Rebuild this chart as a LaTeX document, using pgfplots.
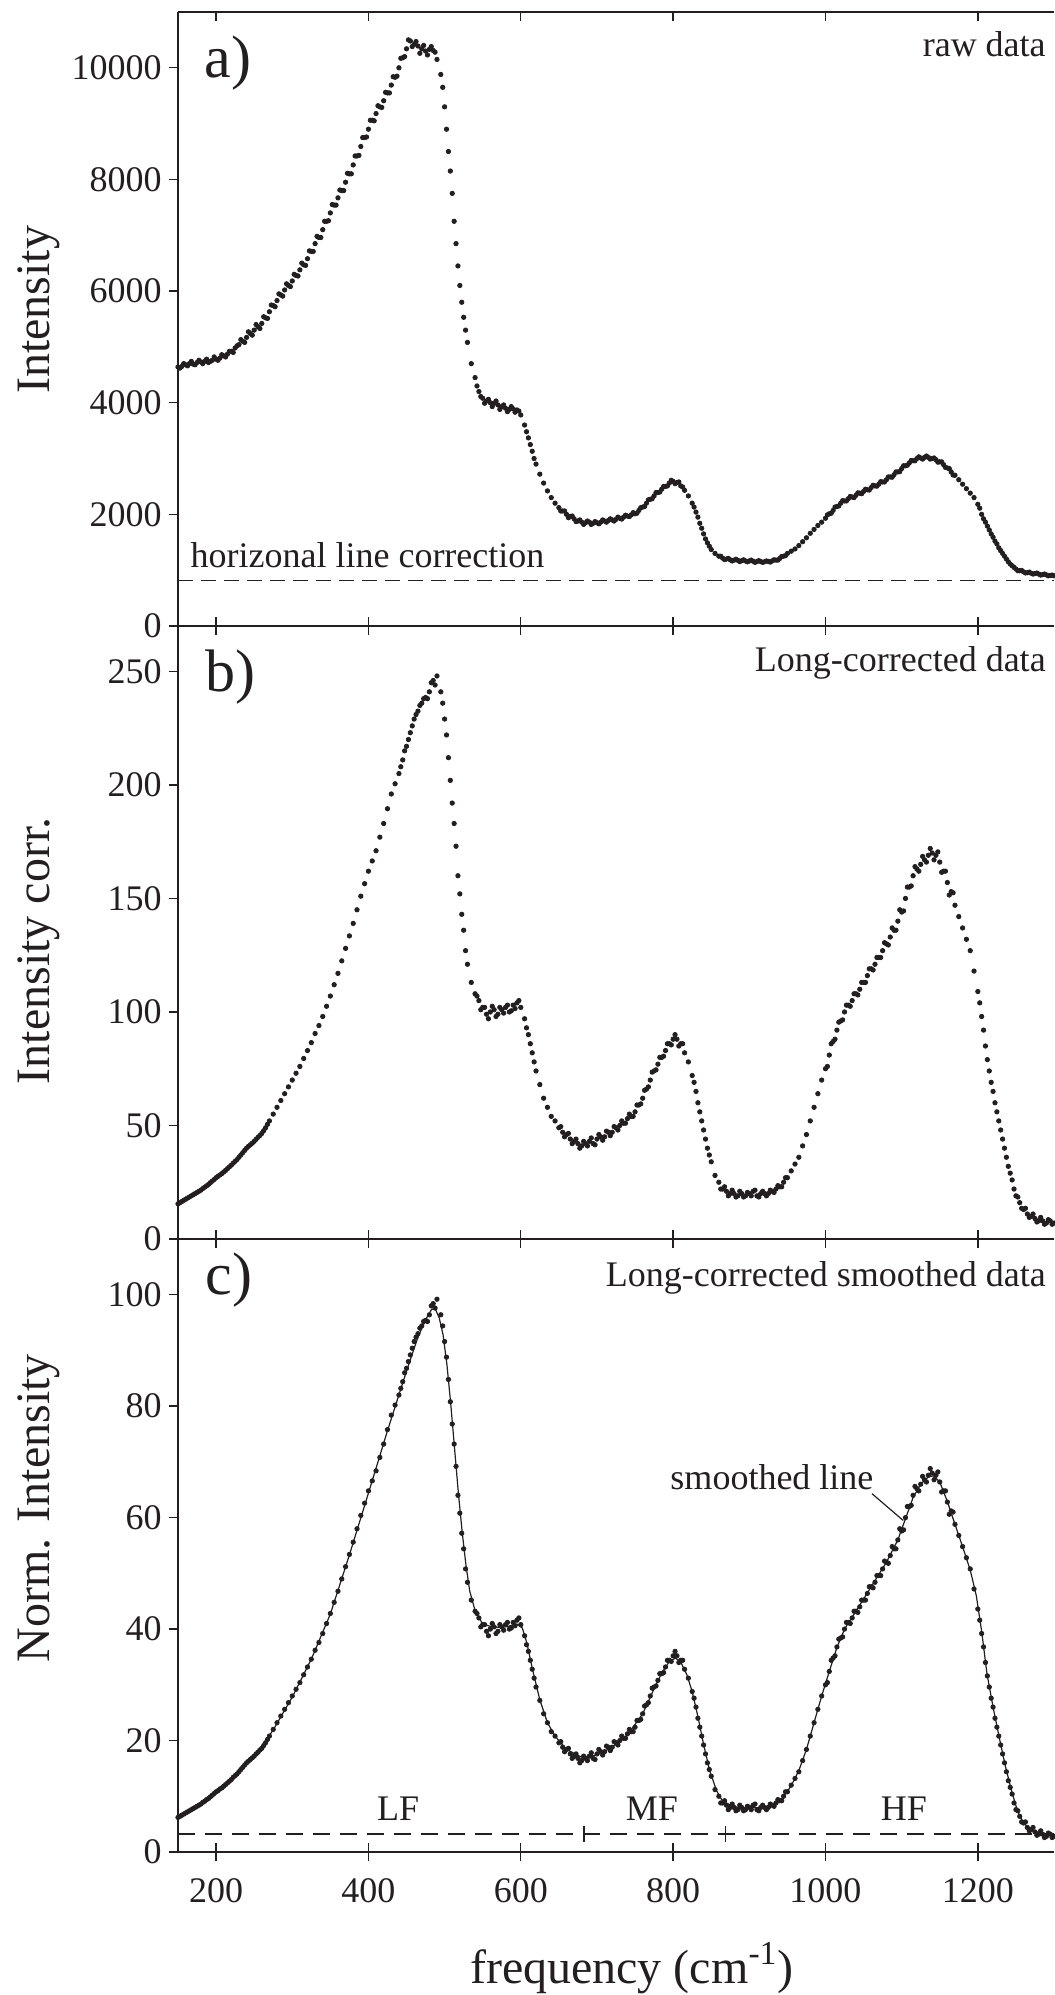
\documentclass[border=0pt]{standalone}
\usepackage{fontspec}
\setmainfont{Liberation Serif}
\usepackage{pgfplots}
\usepackage{pgfplotstable}
\pgfplotsset{compat=1.18}
\definecolor{ink}{HTML}{231F20}

% f = frequency (cm^-1); a = raw intensity; b = Long-corrected; c = normalised
\pgfplotstableread{
f a b c
150 4640 15.5 6.2
155 4650 16.5 6.6
160 4680 17.5 7.0
165 4700 18.5 7.4
170 4690 19.5 7.8
175 4720 20.5 8.2
180 4730 21.5 8.6
185 4740 22.8 9.1
190 4720 24.0 9.6
195 4760 25.5 10.2
200 4780 27.0 10.8
205 4800 28.2 11.3
210 4840 29.5 11.8
215 4870 31.0 12.4
220 4920 32.5 13.0
225 4980 34.2 13.7
230 5040 36.0 14.4
235 5100 38.0 15.2
240 5170 40.0 16.0
245 5240 41.5 16.6
250 5300 43.0 17.2
255 5360 44.8 17.9
260 5420 46.5 18.6
265 5520 49.0 19.6
270 5630 52.0 20.8
275 5740 55.0 22.0
280 5830 58.0 23.2
285 5930 61.0 24.4
290 6020 64.0 25.6
295 6100 67.0 26.8
300 6180 70.0 28.0
305 6280 73.0 29.2
310 6380 76.0 30.4
315 6470 79.5 31.8
320 6580 83.0 33.2
325 6710 86.5 34.6
330 6850 90.5 36.2
335 6960 94.0 37.6
340 7100 98.0 39.2
345 7250 102.5 41.0
350 7400 107.0 42.8
355 7540 112.0 44.8
360 7670 117.0 46.8
365 7800 122.5 49.0
370 7950 128.0 51.2
375 8100 133.5 53.4
380 8260 139.0 55.6
385 8420 145.0 58.0
390 8590 151.0 60.4
395 8750 156.5 62.6
400 8900 162.0 64.8
405 9060 166.5 66.6
410 9180 171.0 68.4
415 9300 177.0 70.8
420 9410 183.0 73.2
425 9550 189.5 75.8
430 9690 196.0 78.4
435 9830 200.5 80.2
440 10000 205.0 82.0
445 10180 211.0 84.4
450 10340 217.0 86.8
455 10480 223.0 89.2
460 10420 229.0 91.6
465 10390 232.5 93.0
470 10340 236.0 94.4
475 10300 238.5 95.4
480 10330 241.0 96.4
485 10310 246.0 98.4
490 10150 248.0 99.2
495 9880 241.0 96.4
497.5 9650 236.0 94.4
500 9300 229.0 91.6
502.5 8900 222.0 88.8
505 8500 212.0 84.8
507.5 8150 202.0 80.8
510 7750 192.0 76.8
512.5 7250 183.0 73.2
515 6850 173.0 69.2
517.5 6450 160.0 64.0
520 6100 152.0 60.8
522.5 5800 143.0 57.2
525 5530 136.0 54.4
527.5 5300 127.0 50.8
530 5080 121.0 48.4
535 4700 113.0 45.2
540 4450 108.0 43.2
545 4200 105.0 42.0
550 4080 102.0 40.8
555 4030 99.0 39.6
560 4000 100.0 40.0
565 3990 101.0 40.4
570 3960 99.0 39.6
575 3930 101.0 40.4
580 3900 102.0 40.8
585 3880 100.0 40.0
590 3890 103.0 41.2
595 3870 104.0 41.6
600 3780 102.0 40.8
605 3600 97.0 38.8
607.5 3480 93.0 37.2
610 3370 90.0 36.0
612.5 3250 86.0 34.4
615 3130 82.0 32.8
617.5 3000 78.0 31.2
620 2900 74.0 29.6
625 2720 68.0 27.2
630 2560 62.0 24.8
635 2420 58.0 23.2
640 2300 54.0 21.6
645 2200 52.0 20.8
650 2120 49.0 19.6
655 2060 47.0 18.8
660 2000 46.0 18.4
665 1960 44.0 17.6
670 1920 43.0 17.2
675 1880 42.0 16.8
680 1860 41.0 16.4
685 1850 42.0 16.8
690 1860 43.0 17.2
695 1840 42.0 16.8
700 1850 44.0 17.6
705 1860 45.0 18.0
710 1880 45.0 18.0
715 1890 47.0 18.8
720 1900 47.0 18.8
725 1910 49.0 19.6
730 1930 50.0 20.0
735 1950 51.0 20.4
740 1970 53.0 21.2
745 1990 54.0 21.6
750 2010 56.0 22.4
755 2070 59.0 23.6
760 2130 62.0 24.8
765 2200 66.0 26.4
770 2270 70.0 28.0
775 2330 74.0 29.6
780 2390 77.0 30.8
785 2450 80.0 32.0
790 2500 83.0 33.2
795 2560 86.0 34.4
800 2590 88.0 35.2
805 2570 88.0 35.2
810 2510 86.0 34.4
815 2430 82.0 32.8
820 2330 78.0 31.2
825 2200 72.0 28.8
827.5 2130 69.0 27.6
830 2040 65.0 26.0
832.5 1950 60.0 24.0
835 1840 56.0 22.4
837.5 1750 52.0 20.8
840 1650 48.0 19.2
842.5 1560 44.0 17.6
845 1490 40.0 16.0
847.5 1430 37.0 14.8
850 1370 34.0 13.6
855 1300 28.0 11.2
860 1250 25.0 10.0
865 1215 22.0 8.8
870 1200 21.0 8.4
875 1185 20.0 8.0
880 1180 20.0 8.0
885 1175 19.0 7.6
890 1170 20.0 8.0
895 1165 19.0 7.6
900 1165 20.0 8.0
905 1160 21.0 8.4
910 1155 19.0 7.6
915 1155 20.0 8.0
920 1150 20.0 8.0
925 1155 20.0 8.0
930 1165 21.0 8.4
935 1180 22.0 8.8
940 1210 23.0 9.2
945 1250 25.0 10.0
950 1300 27.0 10.8
955 1340 30.0 12.0
960 1380 33.0 13.2
965 1440 36.0 14.4
970 1510 41.0 16.4
975 1580 46.0 18.4
980 1660 52.0 20.8
985 1730 58.0 23.2
990 1800 64.0 25.6
995 1860 70.0 28.0
1000 1930 75.0 30.0
1005 2010 81.0 32.4
1010 2070 87.0 34.8
1015 2140 92.0 36.8
1020 2200 96.0 38.4
1025 2240 100.0 40.0
1030 2280 103.0 41.2
1035 2310 105.0 42.0
1040 2340 108.0 43.2
1045 2380 110.0 44.0
1050 2410 113.0 45.2
1055 2440 116.0 46.4
1060 2480 119.0 47.6
1065 2510 121.0 48.4
1070 2540 124.0 49.6
1075 2580 127.0 50.8
1080 2620 130.0 52.0
1085 2670 133.0 53.2
1090 2710 136.0 54.4
1095 2760 140.0 56.0
1100 2820 144.0 57.6
1105 2870 150.0 60.0
1110 2920 155.0 62.0
1115 2960 160.0 64.0
1120 3000 163.0 65.2
1125 3010 165.0 66.0
1130 3020 167.0 66.8
1135 3020 169.0 67.6
1140 3000 170.0 68.0
1145 2980 169.0 67.6
1150 2940 166.0 66.4
1155 2890 162.0 64.8
1160 2830 157.0 62.8
1165 2760 153.0 61.2
1170 2700 147.0 58.8
1175 2620 142.0 56.8
1180 2540 137.0 54.8
1185 2460 132.0 52.8
1190 2380 127.0 50.8
1195 2300 118.0 47.2
1200 2180 109.0 43.6
1202.5 2110 104.0 41.6
1205 2000 98.0 39.2
1207.5 1920 92.0 36.8
1210 1860 85.0 34.0
1212.5 1790 79.0 31.6
1215 1720 74.0 29.6
1217.5 1650 69.0 27.6
1220 1590 65.0 26.0
1222.5 1520 60.0 24.0
1225 1470 56.0 22.4
1227.5 1400 52.0 20.8
1230 1350 48.0 19.2
1232.5 1300 44.0 17.6
1235 1250 40.0 16.0
1237.5 1200 36.0 14.4
1240 1150 32.0 12.8
1242.5 1110 29.0 11.6
1245 1080 26.0 10.4
1247.5 1050 22.0 8.8
1250 1020 19.0 7.6
1255 990 16.0 6.4
1260 970 13.0 5.2
1265 955 11.0 4.4
1270 945 10.0 4.0
1275 940 9.0 3.6
1280 930 8.0 3.2
1285 920 8.0 3.2
1290 915 7.0 2.8
1295 905 8.0 3.2
1300 900 7.0 2.8
}\spectra

% further measured points (scatter in the noisier stretches); nan = no extra point
\pgfplotstableread{
f a b c
152.5 4620 16.0 6.4
157.5 4700 17.0 6.8
162.5 4660 18.0 7.2
167.5 4740 19.0 7.6
172.5 4680 20.0 8.0
177.5 4760 21.0 8.4
182.5 4700 22.2 8.9
187.5 4780 23.4 9.4
192.5 4740 24.8 9.9
197.5 4820 26.2 10.5
202.5 4760 27.6 11.0
207.5 4860 28.8 11.5
212.5 4820 30.2 12.1
217.5 4920 31.8 12.7
222.5 4900 33.4 13.4
227.5 5020 35.0 14.0
232.5 5130 37.0 14.8
237.5 5080 39.0 15.6
242.5 5270 40.8 16.3
247.5 5210 42.2 16.9
252.5 5400 43.9 17.6
257.5 5330 45.6 18.3
262.5 5540 47.7 19.1
267.5 5510 50.5 20.2
272.5 5750 nan nan
277.5 5720 nan nan
282.5 5950 nan nan
287.5 5910 nan nan
292.5 6130 nan nan
297.5 6080 nan nan
302.5 6300 nan nan
307.5 6270 nan nan
312.5 6500 nan nan
317.5 6460 nan nan
322.5 6720 nan nan
327.5 6710 nan nan
332.5 6980 nan nan
337.5 6960 nan nan
342.5 7250 nan nan
347.5 7260 nan nan
352.5 7550 nan nan
357.5 7540 nan nan
362.5 7810 nan nan
367.5 7800 nan nan
372.5 8110 nan nan
377.5 8100 nan nan
382.5 8420 nan nan
387.5 8430 nan nan
392.5 8750 nan nan
397.5 8760 nan nan
402.5 9060 nan nan
407.5 9050 nan nan
412.5 9320 nan nan
417.5 9290 nan nan
422.5 9560 nan nan
427.5 9550 nan nan
432.5 9840 nan nan
437.5 9850 nan nan
442.5 10170 208.0 83.2
447.5 10200 215.0 86.0
452.5 10500 220.0 88.0
457.5 10380 226.0 90.4
462.5 10470 231.0 92.4
467.5 10260 235.0 94.0
472.5 10400 238.0 95.2
477.5 10230 238.0 95.2
482.5 10380 245.0 98.0
487.5 10280 244.0 97.6
542.5 4300 107.0 42.8
547.5 4110 101.0 40.4
552.5 3990 102.0 40.8
557.5 4060 97.0 38.8
562.5 3930 102.5 41.0
567.5 4030 98.0 39.2
572.5 3880 102.0 40.8
577.5 3960 99.5 39.8
582.5 3840 103.0 41.2
587.5 3930 100.5 40.2
592.5 3830 101.5 40.6
597.5 3850 105.0 42.0
652.5 2060 49.5 19.8
657.5 2060 45.0 18.0
662.5 1940 46.5 18.6
667.5 1970 42.0 16.8
672.5 1870 44.0 17.6
677.5 1900 40.0 16.0
682.5 1820 43.0 17.2
687.5 1880 41.0 16.4
692.5 1820 44.5 17.8
697.5 1870 41.5 16.6
702.5 1830 46.0 18.4
707.5 1900 43.5 17.4
712.5 1860 47.5 19.0
717.5 1920 45.5 18.2
722.5 1880 49.5 19.8
727.5 1950 48.0 19.2
732.5 1915 52.0 20.8
737.5 1985 51.0 20.4
742.5 1960 55.0 22.0
747.5 2030 54.0 21.6
752.5 2020 59.0 23.6
757.5 2120 59.5 23.8
762.5 2140 65.5 26.2
767.5 2260 67.0 26.8
772.5 2280 73.5 29.4
777.5 2390 74.5 29.8
782.5 2400 80.0 32.0
787.5 2500 80.5 32.2
792.5 2510 86.0 34.4
797.5 2610 85.5 34.2
802.5 2550 90.0 36.0
807.5 2580 85.0 34.0
812.5 2490 86.0 34.4
862.5 1250 22.0 8.8
867.5 1190 23.0 9.2
872.5 1210 19.0 7.6
877.5 1165 21.5 8.6
882.5 1195 18.5 7.4
887.5 1155 21.0 8.4
892.5 1185 18.5 7.4
897.5 1150 20.5 8.2
902.5 1180 19.0 7.6
907.5 1140 21.5 8.6
912.5 1170 18.5 7.4
917.5 1140 21.0 8.4
922.5 1165 19.0 7.6
927.5 1145 21.5 8.6
932.5 1185 20.5 8.2
937.5 1180 23.5 9.4
942.5 1245 23.0 9.2
947.5 1260 27.0 10.8
1002.5 1990 76.0 30.4
1007.5 2020 86.0 34.4
1012.5 2130 88.0 35.2
1017.5 2150 95.5 38.2
1022.5 2245 96.5 38.6
1027.5 2240 103.0 41.2
1032.5 2320 102.5 41.0
1037.5 2300 108.0 43.2
1042.5 2385 107.5 43.0
1047.5 2370 113.0 45.2
1052.5 2450 113.0 45.2
1057.5 2435 119.0 47.6
1062.5 2520 118.5 47.4
1067.5 2505 124.0 49.6
1072.5 2585 124.0 49.6
1077.5 2580 130.5 52.2
1082.5 2670 129.5 51.8
1087.5 2665 137.0 54.8
1092.5 2760 136.0 54.4
1097.5 2765 145.0 58.0
1102.5 2870 144.5 57.8
1107.5 2880 155.0 62.0
1112.5 2965 155.5 62.2
1117.5 2960 164.0 65.6
1122.5 3030 162.0 64.8
1127.5 2990 168.5 67.4
1132.5 3045 166.0 66.4
1137.5 2990 172.0 68.8
1142.5 3010 167.0 66.8
1147.5 2935 170.5 68.2
1152.5 2940 161.5 64.6
1157.5 2840 162.0 64.8
1162.5 2820 151.5 60.6
1167.5 2705 152.5 61.0
1252.5 990 18.5 7.4
1257.5 995 13.5 5.4
1262.5 950 13.5 5.4
1267.5 965 9.5 3.8
1272.5 930 11.0 4.4
1277.5 948 7.5 3.0
1282.5 912 9.5 3.8
1287.5 930 6.5 2.6
1292.5 898 8.5 3.4
1297.5 912 6.5 2.6
}\extra

% smoothed line of panel c
\pgfplotstableread{
f s
150 6.2
175 8.2
200 10.8
225 13.7
250 17.1
275 21.9
300 27.8
325 34.6
350 42.7
375 53.3
400 64.4
425 75.6
450 86.3
465 92.4
475 95.5
483 97.4
488 97.4
493 95.8
498 92.8
503 87.5
508 80.5
513 72.5
518 64.5
523 57.5
528 51.5
533 46.8
540 43.3
550 40.9
565 40.3
580 40.4
595 40.9
602 40.2
608 37.5
615 33.0
625 27.3
635 23.2
645 20.8
660 18.4
680 17.0
700 17.4
720 18.8
740 21.0
760 24.8
775 29.3
785 32.1
795 34.2
803 34.8
810 34.1
818 31.8
825 28.8
833 24.0
840 19.3
848 14.6
857 11.0
865 9.1
880 8.1
900 7.9
920 8.0
935 8.7
945 9.9
955 11.9
965 14.6
975 18.4
985 23.2
995 28.0
1005 32.4
1015 36.7
1025 40.0
1040 43.2
1060 47.6
1080 52.0
1095 56.0
1105 59.8
1115 63.6
1125 66.0
1135 67.3
1142 67.5
1150 66.4
1160 62.9
1170 58.8
1180 54.8
1190 50.6
1198 46.0
1205 39.6
1212 32.0
1220 26.0
1228 20.6
1236 15.5
1244 11.1
1252 7.4
1260 5.2
1270 4.0
1285 3.3
1300 3.0
}\smoothc

\newcommand{\lbl}{\fontsize{18}{21}\selectfont}
\newcommand{\axl}{\fontsize{24}{28}\selectfont}
\newcommand{\letter}{\fontsize{30}{34}\selectfont}

\pgfplotsset{
  panel/.style={scale only axis, width=438pt, xmin=150, xmax=1300, clip=false,
    anchor=south west,
    axis line style={ink, line width=0.8pt},
    tick style={ink, line width=0.7pt},
    major tick length=4.6pt,
    xtick={200,400,600,800,1000,1200},
    tick label style={font=\lbl, text=ink},
    /pgf/number format/assume math mode=true,
    /pgf/number format/1000 sep={},
    scaled y ticks=false, scaled x ticks=false},
  main/.style={panel, axis x line*=bottom, axis y line*=left,
    xtick align=inside, ytick align=outside},
  toppart/.style={panel, axis x line*=top, axis y line=none,
    xtick align=inside, xticklabels={}},
  botout/.style={panel, axis x line*=bottom, axis y line=none,
    xtick align=outside, xticklabels={}},
  dots/.style={only marks, mark=*, mark size=1.1pt, color=ink, unbounded coords=discard},
  hline/.style={ink, line width=0.7pt, dash pattern=on 7.5pt off 4pt},
}

\begin{document}
\begin{tikzpicture}

% ---------------- panel a ----------------
\begin{axis}[main, at={(0pt,613pt)}, height=307pt,
  ymin=0, ymax=11000, ytick={0,2000,4000,6000,8000,10000}, xticklabels={}]
\addplot[hline] coordinates {(150,820) (1300,820)};
\addplot[dots] table[x=f,y=a]{\spectra};
\addplot[dots] table[x=f,y=a]{\extra};
\node[anchor=base west, font=\lbl, text=ink, inner sep=0pt] at (axis cs:166,1039) {horizonal line correction};
\node[anchor=base west, font=\letter, text=ink, inner sep=0pt] at (rel axis cs:0.03,0.894) {a)};
\node[anchor=base east, font=\lbl, text=ink, inner sep=0pt] at (rel axis cs:0.991,0.927) {raw data};
\node[rotate=90, anchor=base, font=\axl, text=ink, inner sep=0pt] at ([xshift=-64pt]rel axis cs:0,0.515) {Intensity};
\end{axis}
\begin{axis}[toppart, at={(0pt,613pt)}, height=307pt, ymin=0, ymax=11000]
\end{axis}

% ---------------- panel b ----------------
\begin{axis}[main, at={(0pt,306.5pt)}, height=306.5pt,
  ymin=0, ymax=270, ytick={0,50,100,150,200,250}, xticklabels={}]
\addplot[dots] table[x=f,y=b]{\spectra};
\addplot[dots] table[x=f,y=b]{\extra};
\node[anchor=base west, font=\letter, text=ink, inner sep=0pt] at (rel axis cs:0.031,0.893) {b)};
\node[anchor=base east, font=\lbl, text=ink, inner sep=0pt] at (rel axis cs:0.991,0.925) {Long-corrected data};
\node[rotate=90, anchor=base, font=\axl, text=ink, inner sep=0pt] at ([xshift=-64pt]rel axis cs:0,0.47) {Intensity corr.};
\end{axis}
\begin{axis}[toppart, at={(0pt,306.5pt)}, height=306.5pt, ymin=0, ymax=270]
\end{axis}

% ---------------- panel c ----------------
\begin{axis}[main, at={(0pt,0pt)}, height=306.5pt,
  ymin=0, ymax=110, ytick={0,20,40,60,80,100},
  xticklabel style={yshift=-9.5pt}]
\addplot[ink, line width=0.7pt, dash pattern=on 8.5pt off 5pt] coordinates {(150,3.2) (1300,3.2)};
\addplot[ink, line width=0.7pt] coordinates {(683,1.8) (683,4.6)};
\addplot[ink, line width=0.7pt] coordinates {(869,1.8) (869,4.6)};
\addplot[dots] table[x=f,y=c]{\spectra};
\addplot[dots] table[x=f,y=c]{\extra};
\addplot[ink, line width=0.6pt] table[x=f,y=s]{\smoothc};
\draw[ink, line width=0.6pt] (axis cs:1061,64.3) -- (axis cs:1102,59.5);
\node[anchor=base west, font=\lbl, text=ink, inner sep=0pt] at (axis cs:796,65) {smoothed line};
\node[anchor=base, font=\lbl, text=ink, inner sep=0pt] at (axis cs:439,5.6) {LF};
\node[anchor=base, font=\lbl, text=ink, inner sep=0pt] at (axis cs:772,5.6) {MF};
\node[anchor=base, font=\lbl, text=ink, inner sep=0pt] at (axis cs:1103,5.6) {HF};
\node[anchor=base west, font=\letter, text=ink, inner sep=0pt] at (rel axis cs:0.031,0.909) {c)};
\node[anchor=base east, font=\lbl, text=ink, inner sep=0pt] at (rel axis cs:0.991,0.922) {Long-corrected smoothed data};
\node[rotate=90, anchor=base, font=\axl, text=ink, inner sep=0pt] at ([xshift=-64pt]rel axis cs:0,0.561) {Norm. Intensity};
\node[anchor=base, font=\axl, text=ink, inner sep=0pt] at ([yshift=-65.5pt]rel axis cs:0.518,0) {frequency (cm\textsuperscript{-1})};
\end{axis}
\begin{axis}[toppart, at={(0pt,0pt)}, height=306.5pt, ymin=0, ymax=110]
\end{axis}
\begin{axis}[botout, at={(0pt,0pt)}, height=306.5pt, ymin=0, ymax=110]
\end{axis}

\pgfresetboundingbox
\path[use as bounding box] (-89pt,-71.5pt) rectangle (438pt,926pt);
\end{tikzpicture}
\end{document}
